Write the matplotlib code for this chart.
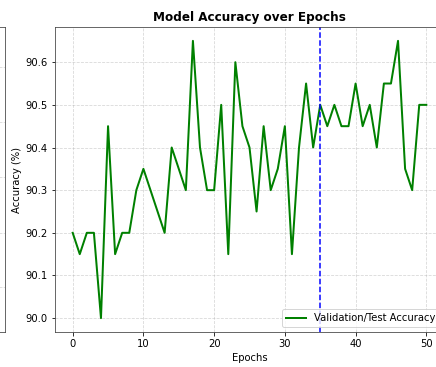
import matplotlib
matplotlib.use("Agg")
import matplotlib.pyplot as plt

epochs = list(range(51))
val_acc = [90.2, 90.15, 90.2, 90.2, 90.0, 90.45, 90.15, 90.2, 90.2, 90.3,
           90.35, 90.3, 90.25, 90.2, 90.4, 90.35, 90.3, 90.65, 90.4, 90.3,
           90.3, 90.5, 90.15, 90.6, 90.45, 90.4, 90.25, 90.45, 90.3, 90.35,
           90.45, 90.15, 90.4, 90.55, 90.4, 90.5, 90.45, 90.5, 90.45, 90.45,
           90.55, 90.45, 90.5, 90.4, 90.55, 90.55, 90.65, 90.35, 90.3, 90.5,
           90.5]
marker_epoch = 35

W, H = 436, 367
DPI = 72
fig = plt.figure(figsize=(W / DPI, H / DPI), dpi=DPI)

# neighbouring panel, only its right edge is visible
left = fig.add_axes([-0.5, 35 / H, 0.5 + 5 / W, 305 / H])
left.set_ylim(0, 1)
left.set_xticks([])
left.set_yticks([0.148, 0.325, 0.508, 0.689, 0.869])
left.tick_params(left=False, labelleft=False)
left.grid(True, axis="y", linestyle="--", alpha=0.5)
for s in left.spines.values():
    s.set_color("#444444")

ax = fig.add_axes([55 / W, 35 / H, 389 / W, 305 / H])
ax.plot(epochs, val_acc, color="green", linewidth=2, label="Validation/Test Accuracy")
ax.axvline(marker_epoch, color="blue", linestyle="--", linewidth=1.5)
ax.set_title("Model Accuracy over Epochs", fontweight="bold")
ax.set_xlabel("Epochs")
ax.set_ylabel("Accuracy (%)")
ax.grid(True, linestyle="--", alpha=0.5)
ax.legend(loc="lower right")
for s in ax.spines.values():
    s.set_color("#444444")

fig.savefig("out.png", dpi=DPI)
